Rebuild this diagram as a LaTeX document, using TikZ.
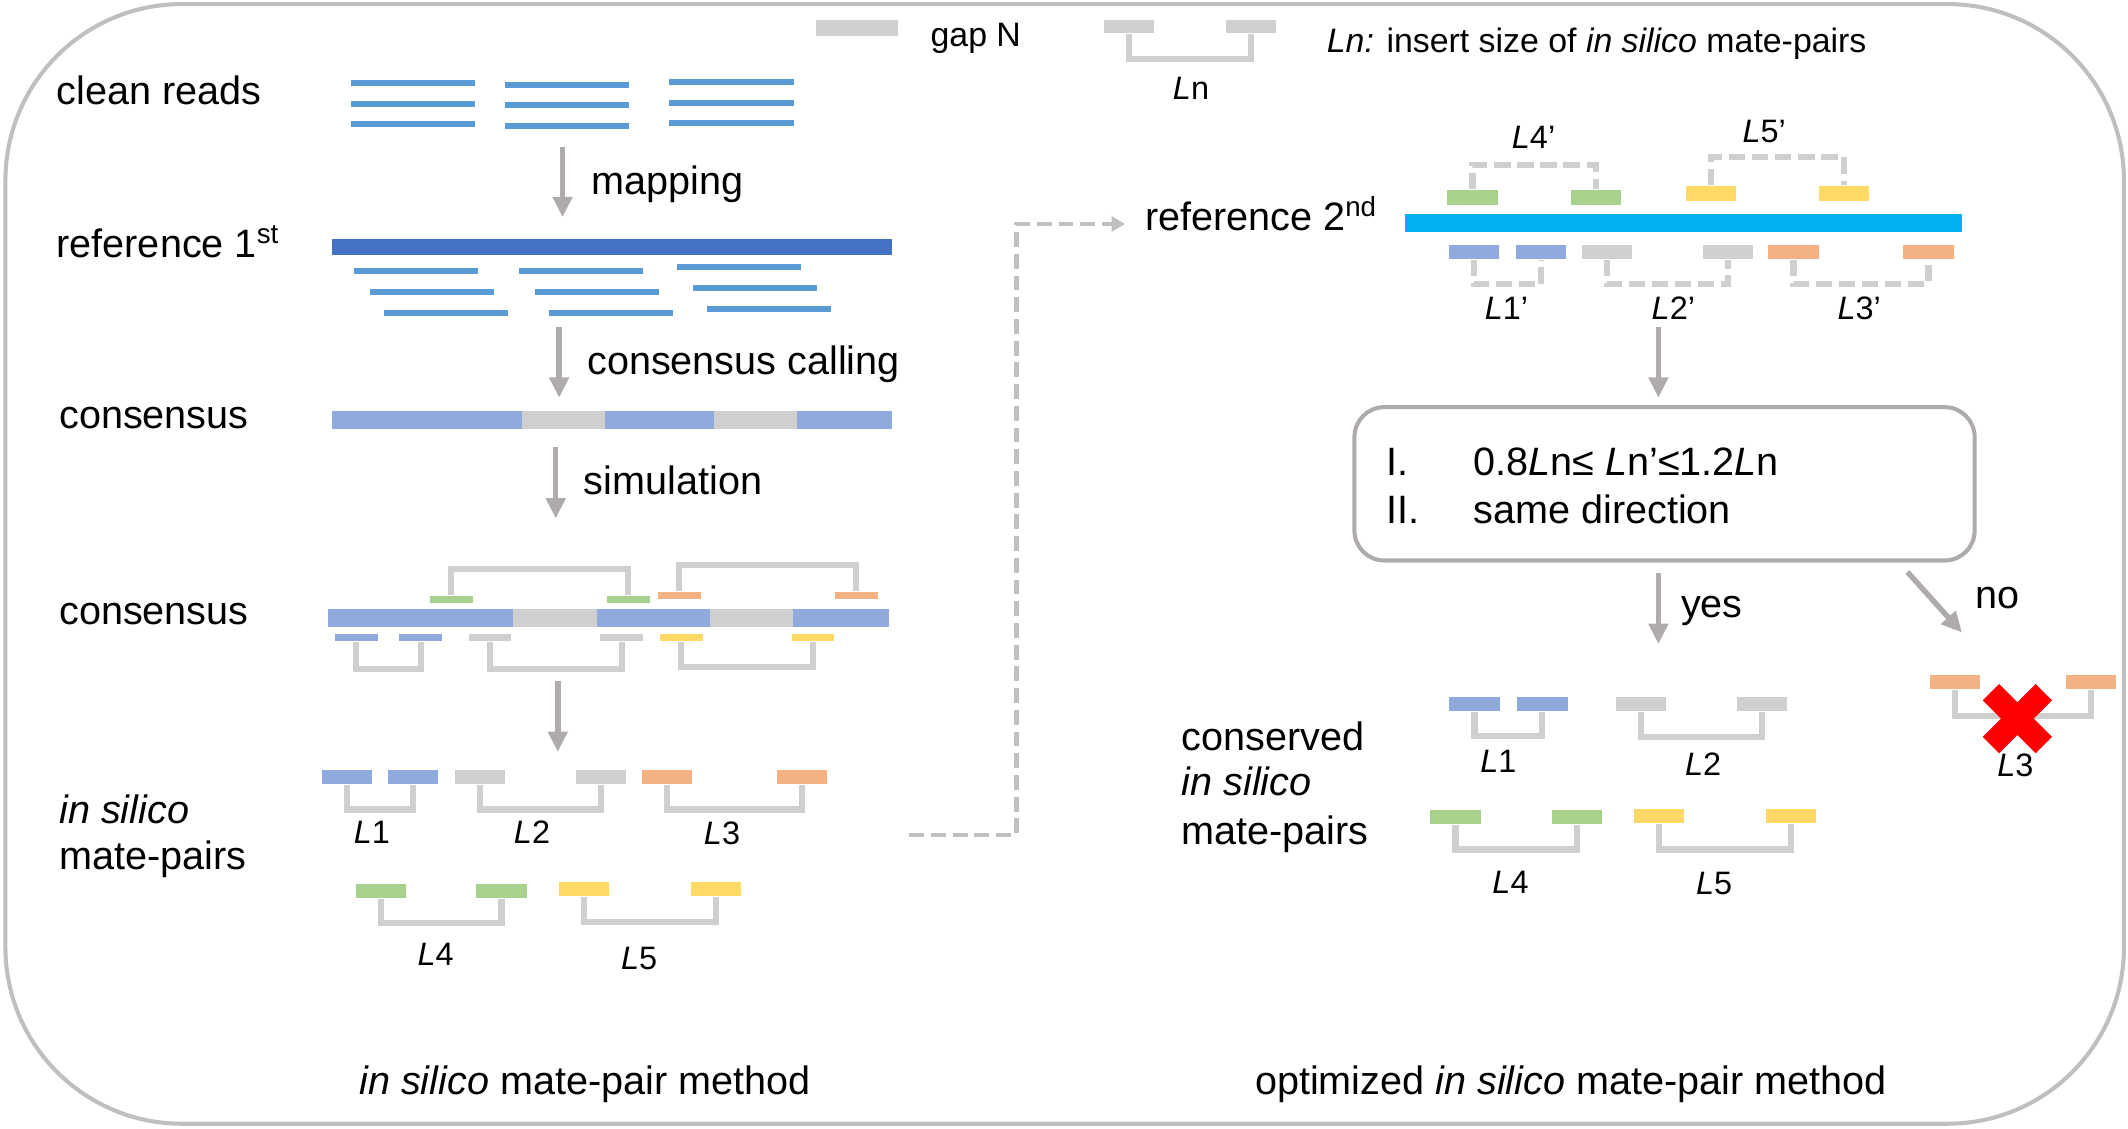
\documentclass[tikz,border=0pt]{standalone}
\usepackage{fontspec}
\setmainfont{Liberation Sans}
\usetikzlibrary{arrows.meta}
\definecolor{readblue}{HTML}{5B9BD5}
\definecolor{refblue}{HTML}{4472C4}
\definecolor{consblue}{HTML}{8FAADC}
\definecolor{gapgray}{HTML}{D0CECE}
\definecolor{matgreen}{HTML}{A9D18E}
\definecolor{matorange}{HTML}{F4B183}
\definecolor{matyellow}{HTML}{FFD966}
\definecolor{refcyan}{HTML}{00B0F0}
\definecolor{arrowgray}{HTML}{AFABAB}
\definecolor{framegray}{HTML}{BFBFBF}
\begin{document}
\begin{tikzpicture}[x=0.1mm, y=-0.1mm,
        read/.style={rectangle, fill=readblue, inner sep=0pt, minimum width=9.15mm, minimum height=0.45mm},
        seg/.style={rectangle, inner sep=0pt, minimum width=3.15mm, minimum height=0.5mm},
        mate/.style={rectangle, inner sep=0pt, minimum width=3.7mm, minimum height=1.05mm},
        bar/.style={rectangle, inner sep=0pt, minimum height=1.3mm},
        lbl/.style={font=\fontsize{8.3}{10}\selectfont, inner sep=0pt},
        legendtxt/.style={font=\fontsize{7.1}{8.5}\selectfont, inner sep=0pt},
        tag/.style={font=\fontsize{6.8}{8}\selectfont, inner sep=0pt},
        pair/.style={draw=gapgray, line width=0.45mm},
        dpair/.style={pair, dash pattern=on 1.2mm off 0.5mm},
        arrow/.style={-{Triangle[width=1.4mm, length=1.5mm]}, line width=0.4mm, draw=arrowgray},
        link/.style={-{Triangle[width=1.1mm, length=1mm]}, line width=0.3mm, draw=framegray, dash pattern=on 1.1mm off 0.5mm},
        frame/.style={draw=framegray, line width=0.3mm, rounded corners=13mm},
        critbox/.style={rectangle, draw=arrowgray, line width=0.3mm, rounded corners=2.2mm}
    ]
        \useasboundingbox (0,0) rectangle (1568,831.2);
        \draw[frame] (4,3) rectangle (1565,828);

        % Legend
        \node[mate, fill=gapgray, minimum width=6.1mm, minimum height=1.2mm] (gapkey) at (631.5,20.5) {};
        \node[legendtxt, anchor=base west] (gaptxt) at (685,34.5) {gap N};
        \node[mate, fill=gapgray, minimum height=1mm] (keya) at (832,19.5) {};
        \node[mate, fill=gapgray, minimum height=1mm] (keyb) at (921.5,19.5) {};
        \draw[pair] (keya.south) -- ++(0,18) -| (keyb.south);
        \node[tag] (keyL) at (877.6,65) {\textit{L}n};
        \node[legendtxt, anchor=base west] (keytxt) at (977,38.4) {\textit{Ln:} insert size of \textit{in silico} mate-pairs};

        % Clean reads
        \node[lbl, anchor=base west] (cleanlbl) at (41,77) {clean reads};
        \node[read] (cr1) at (304.3,61) {};
        \node[read] (cr2) at (304.3,76.3) {};
        \node[read] (cr3) at (304.3,91.5) {};
        \node[read] (cr4) at (417.5,62.5) {};
        \node[read] (cr5) at (417.5,77.6) {};
        \node[read] (cr6) at (417.5,93) {};
        \node[read] (cr7) at (539,60.7) {};
        \node[read] (cr8) at (539,75.8) {};
        \node[read] (cr9) at (539,90.9) {};

        % Mapping
        \coordinate (map1) at (414.5,108);
        \coordinate (map2) at (414.5,160);
        \draw[arrow] (map1) -- (map2);
        \node[lbl, anchor=base west] (maplbl) at (435,143) {mapping};

        % Reference 1st
        \node[lbl, anchor=base west] (ref1lbl) at (41,189.6) {reference 1\textsuperscript{st}};
        \node[bar, fill=refblue, minimum width=41.3mm, minimum height=1.25mm] (ref1) at (451.1,182) {};
        \node[read] (mr1) at (306.5,199.9) {};
        \node[read] (mr2) at (318.5,215) {};
        \node[read] (mr3) at (328.5,230.4) {};
        \node[read] (mr4) at (428,199.9) {};
        \node[read] (mr5) at (440,215) {};
        \node[read] (mr6) at (450,230.4) {};
        \node[read] (mr7) at (544.5,197) {};
        \node[read] (mr8) at (556.6,212.4) {};
        \node[read] (mr9) at (566.8,227.8) {};

        % Consensus calling
        \coordinate (call1) at (412,240.7);
        \coordinate (call2) at (412,293);
        \draw[arrow] (call1) -- (call2);
        \node[lbl, anchor=base west] (calllbl) at (432,275.7) {consensus calling};

        % Consensus
        \node[lbl, anchor=base west] (cons1lbl) at (43,315.5) {consensus};
        \node[bar, fill=consblue, minimum width=41.3mm] (cons1) at (451.1,309.5) {};
        \node[bar, fill=gapgray, minimum width=6.1mm] (gap1) at (415,309.5) {};
        \node[bar, fill=gapgray, minimum width=6.17mm] (gap2) at (556.7,309.5) {};

        % Simulation
        \coordinate (sim1) at (409.5,329.5);
        \coordinate (sim2) at (409.5,382);
        \draw[arrow] (sim1) -- (sim2);
        \node[lbl, anchor=base west] (simlbl) at (429.5,364.4) {simulation};

        % Consensus with simulated pairs
        \node[lbl, anchor=base west] (cons2lbl) at (43,460.5) {consensus};
        \node[bar, fill=consblue, minimum width=41.3mm] (cons2) at (448.5,455.5) {};
        \node[bar, fill=gapgray, minimum width=6.2mm] (gap3) at (409,455.5) {};
        \node[bar, fill=gapgray, minimum width=6.1mm] (gap4) at (553.5,455.5) {};
        \node[seg, fill=matgreen] (sg1) at (332.5,441.5) {};
        \node[seg, fill=matgreen] (sg2) at (463,441.5) {};
        \node[seg, fill=matorange] (so1) at (500.5,438.5) {};
        \node[seg, fill=matorange] (so2) at (631,438.5) {};
        \node[seg, fill=consblue] (sb1) at (262.5,469.5) {};
        \node[seg, fill=consblue] (sb2) at (310,469.5) {};
        \node[seg, fill=gapgray] (ss1) at (361,469.5) {};
        \node[seg, fill=gapgray] (ss2) at (458,469.5) {};
        \node[seg, fill=matyellow] (sy1) at (502,469.5) {};
        \node[seg, fill=matyellow] (sy2) at (599,469.5) {};
        \draw[pair] (sg1.north) -- ++(0,-19) -| (sg2.north);
        \draw[pair] (so1.north) -- ++(0,-19) -| (so2.north);
        \draw[pair] (sb1.south) -- ++(0,20) -| (sb2.south);
        \draw[pair] (ss1.south) -- ++(0,20) -| (ss2.south);
        \draw[pair] (sy1.south) -- ++(0,19) -| (sy2.south);

        \coordinate (pick1) at (411,501.8);
        \coordinate (pick2) at (411,554);
        \draw[arrow] (pick1) -- (pick2);

        % In silico mate-pairs
        \node[lbl, anchor=base west] (islbl) at (43,606.5) {\textit{in silico}};
        \node[lbl, anchor=base west] (mplbl) at (43,641) {mate-pairs};
        \node[mate, fill=consblue] (m1a) at (255.5,572.5) {};
        \node[mate, fill=consblue] (m1b) at (304.5,572.5) {};
        \node[mate, fill=gapgray] (m2a) at (353.5,572.5) {};
        \node[mate, fill=gapgray] (m2b) at (443,572.5) {};
        \node[mate, fill=matorange] (m3a) at (491.5,572.5) {};
        \node[mate, fill=matorange] (m3b) at (591,572.5) {};
        \node[mate, fill=matgreen] (m4a) at (280.5,656.5) {};
        \node[mate, fill=matgreen] (m4b) at (369.5,656.5) {};
        \node[mate, fill=matyellow] (m5a) at (430.5,655) {};
        \node[mate, fill=matyellow] (m5b) at (527.5,655) {};
        \draw[pair] (m1a.south) -- ++(0,18) -| (m1b.south);
        \draw[pair] (m2a.south) -- ++(0,18) -| (m2b.south);
        \draw[pair] (m3a.south) -- ++(0,18) -| (m3b.south);
        \draw[pair] (m4a.south) -- ++(0,17.5) -| (m4b.south);
        \draw[pair] (m5a.south) -- ++(0,18.5) -| (m5b.south);
        \node[tag] (l1) at (274,613) {\textit{L}1};
        \node[tag] (l2) at (392,613) {\textit{L}2};
        \node[tag] (l3) at (532,614) {\textit{L}3};
        \node[tag] (l4) at (321,703) {\textit{L}4};
        \node[tag] (l5) at (471,706) {\textit{L}5};

        \node[lbl, anchor=base] (leftcap) at (431,806.5) {\textit{in silico} mate-pair method};

        % Dashed link to the 2nd reference
        \coordinate (link1) at (670,615);
        \coordinate (link2) at (829,165);
        \draw[link] (link1) -- ++(79,0) |- (link2);

        % Reference 2nd
        \node[lbl, anchor=base west] (ref2lbl) at (843,169.6) {reference 2\textsuperscript{nd}};
        \node[bar, fill=refcyan, minimum width=41.1mm] (ref2) at (1240.5,164.5) {};
        \node[mate, fill=matgreen] (r4a) at (1085,145.5) {};
        \node[mate, fill=matgreen] (r4b) at (1176,145.5) {};
        \node[mate, fill=matyellow] (r5a) at (1261,142.5) {};
        \node[mate, fill=matyellow] (r5b) at (1358.5,142.5) {};
        \node[mate, fill=consblue] (r1a) at (1086,185.5) {};
        \node[mate, fill=consblue] (r1b) at (1135.5,185.5) {};
        \node[mate, fill=gapgray] (r2a) at (1184,185.5) {};
        \node[mate, fill=gapgray] (r2b) at (1273.5,185.5) {};
        \node[mate, fill=matorange] (r3a) at (1321.5,185.5) {};
        \node[mate, fill=matorange] (r3b) at (1421,185.5) {};
        \draw[dpair] (r4a.north) -- ++(0,-18) -| (r4b.north);
        \draw[dpair] (r5a.north) -- ++(0,-21) -| (r5b.north);
        \draw[dpair] (r1a.south) -- ++(0,18) -| (r1b.south);
        \draw[dpair] (r2a.south) -- ++(0,18) -| (r2b.south);
        \draw[dpair] (r3a.south) -- ++(0,17.5) -| (r3b.south);
        \node[tag] (l4p) at (1130,101) {\textit{L}4’};
        \node[tag] (l5p) at (1300,97) {\textit{L}5’};
        \node[tag] (l1p) at (1110,227) {\textit{L}1’};
        \node[tag] (l2p) at (1233,227) {\textit{L}2’};
        \node[tag] (l3p) at (1370,227) {\textit{L}3’};

        % Criteria
        \coordinate (chk1) at (1222,241);
        \coordinate (chk2) at (1222,293);
        \draw[arrow] (chk1) -- (chk2);
        \node[critbox, minimum width=45.7mm, minimum height=11.3mm] (crit) at (1226.5,356.5) {};
        \node[lbl, anchor=base west] (critnum1) at (1021,350.4) {I.};
        \node[lbl, anchor=base west] (crit1) at (1085,350.4) {0.8\textit{L}n≤ \textit{L}n’≤1.2\textit{L}n};
        \node[lbl, anchor=base west] (critnum2) at (1021,385.6) {II.};
        \node[lbl, anchor=base west] (crit2) at (1085,385.6) {same direction};

        \coordinate (yes1) at (1222,422);
        \coordinate (yes2) at (1222,474.5);
        \draw[arrow] (yes1) -- (yes2);
        \node[lbl, anchor=base west] (yeslbl) at (1238,455) {yes};
        \coordinate (no1) at (1405.5,421.5);
        \coordinate (no2) at (1445.6,466);
        \draw[arrow] (no1) -- (no2);
        \node[lbl, anchor=base west] (nolbl) at (1455,448.6) {no};

        % Conserved in silico mate-pairs
        \node[lbl, anchor=base west] (conslbl1) at (870,553) {conserved};
        \node[lbl, anchor=base west] (conslbl2) at (870,586.5) {\textit{in silico}};
        \node[lbl, anchor=base west] (conslbl3) at (870,622) {mate-pairs};
        \node[mate, fill=consblue] (c1a) at (1086.5,519) {};
        \node[mate, fill=consblue] (c1b) at (1136.5,519) {};
        \node[mate, fill=gapgray] (c2a) at (1209,519) {};
        \node[mate, fill=gapgray] (c2b) at (1298.5,519) {};
        \node[mate, fill=matgreen] (c4a) at (1072.5,602) {};
        \node[mate, fill=matgreen] (c4b) at (1162,602) {};
        \node[mate, fill=matyellow] (c5a) at (1222.5,601) {};
        \node[mate, fill=matyellow] (c5b) at (1319.5,601) {};
        \draw[pair] (c1a.south) -- ++(0,17.5) -| (c1b.south);
        \draw[pair] (c2a.south) -- ++(0,18) -| (c2b.south);
        \draw[pair] (c4a.south) -- ++(0,18) -| (c4b.south);
        \draw[pair] (c5a.south) -- ++(0,19) -| (c5b.south);
        \node[tag] (k1) at (1104,561) {\textit{L}1};
        \node[tag] (k2) at (1255,563) {\textit{L}2};
        \node[tag] (k4) at (1113,650) {\textit{L}4};
        \node[tag] (k5) at (1263,651) {\textit{L}5};

        % Rejected pair
        \node[mate, fill=matorange] (x3a) at (1440.5,502.5) {};
        \node[mate, fill=matorange] (x3b) at (1540.5,502.5) {};
        \draw[pair] (x3a.south) -- ++(0,19) -| (x3b.south);
        \node[tag] (x3) at (1485,564) {\textit{L}3};
        \draw[red, line width=1.7mm] (1467,510) -- (1506,549);
        \draw[red, line width=1.7mm] (1506,510) -- (1467,549);

        \node[lbl, anchor=base] (rightcap) at (1157.5,806.5) {optimized \textit{in silico} mate-pair method};
    \end{tikzpicture}
\end{document}
